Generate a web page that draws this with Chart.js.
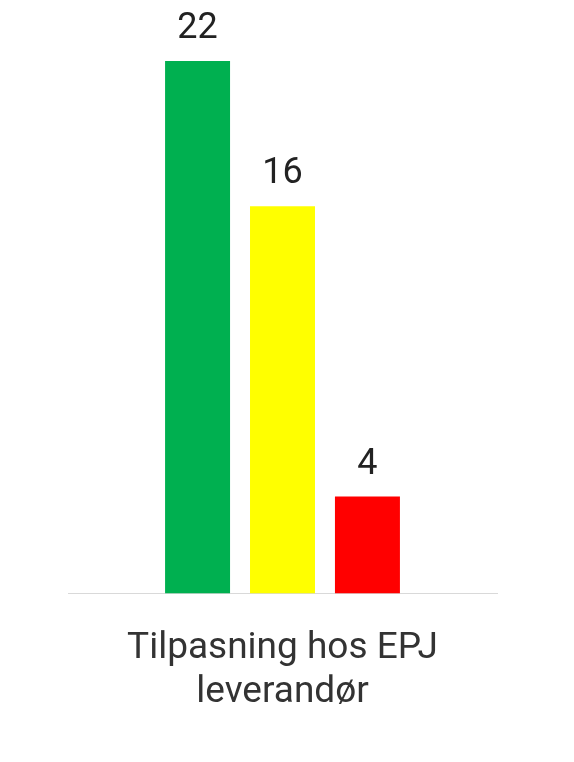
<!DOCTYPE html>
<html>
<head>
<meta charset="utf-8">
<script src="https://cdn.jsdelivr.net/npm/chart.js@4"></script>
<style>
  html, body { margin: 0; padding: 0; background: #fff; }
  #wrap { width: 574px; height: 762px; }
</style>
</head>
<body>
<div id="wrap"><canvas id="chart"></canvas></div>
<script>
const categories = [['Tilpasning hos EPJ', 'leverandør']];
const greenValues = [22];
const yellowValues = [16];
const redValues = [4];

// etiquetas com o valor em cima de cada barra
const valueLabels = {
    id: 'valueLabels',
    afterDatasetsDraw(chart) {
        const ctx = chart.ctx;
        ctx.save();
        ctx.font = '36px Roboto';
        ctx.fillStyle = '#222';
        ctx.textAlign = 'center';
        ctx.textBaseline = 'bottom';
        chart.data.datasets.forEach((ds, i) => {
            chart.getDatasetMeta(i).data.forEach((bar, j) => {
                ctx.fillText(ds.data[j], bar.x, bar.y - 14);
            });
        });
        ctx.restore();
    }
};

new Chart(document.getElementById('chart'), {
    type: 'bar',
    data: {
        labels: categories,
        datasets: [
            { data: greenValues, backgroundColor: '#00b050' },
            { data: yellowValues, backgroundColor: '#ffff00' },
            { data: redValues, backgroundColor: '#ff0000' }
        ]
    },
    options: {
        responsive: true,
        maintainAspectRatio: false,
        animation: false,
        layout: { padding: { top: 61, left: 68, right: 77, bottom: 22 } },
        plugins: { legend: { display: false }, tooltip: { enabled: false } },
        datasets: { bar: { barPercentage: 0.765, categoryPercentage: 0.594 } },
        scales: {
            y: { display: false, min: 0, max: 22 },
            x: {
                grid: { display: false },
                border: { color: '#d9d9d9' },
                ticks: { color: '#333', font: { family: 'Roboto', size: 37, lineHeight: 1.17 }, padding: 26 }
            }
        }
    },
    plugins: [valueLabels]
});
</script>
</body>
</html>
